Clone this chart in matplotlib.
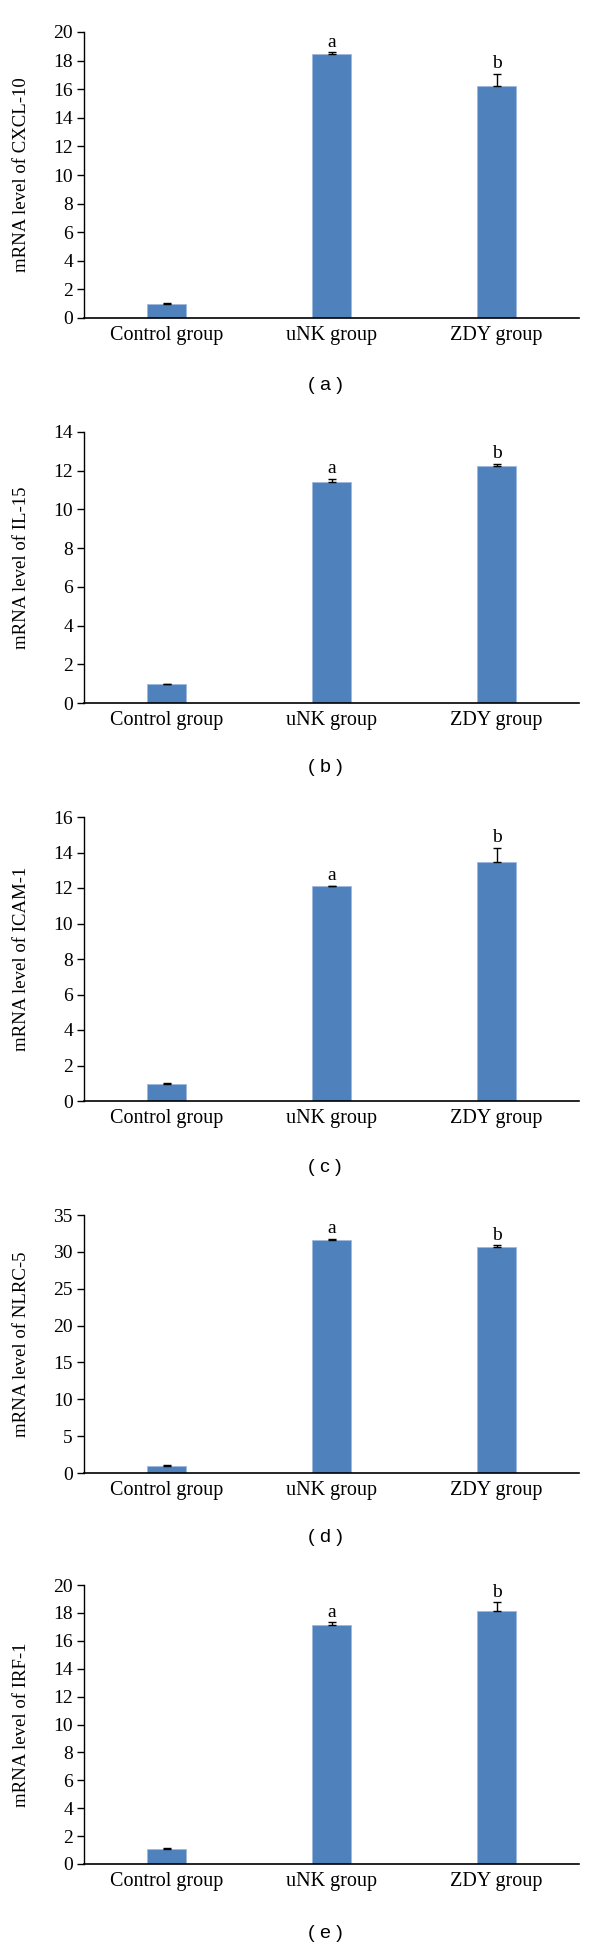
import matplotlib
matplotlib.use("Agg")
import matplotlib.pyplot as plt

groups = ["Control group", "uNK group", "ZDY group"]
genes = ["CXCL-10", "IL-15", "ICAM-1", "NLRC-5", "IRF-1"]
panel_tags = ["( a )", "( b )", "( c )", "( d )", "( e )"]

cxcl10 = [1.0, 18.45, 16.2]
cxcl10_err = [0.02, 0.12, 0.87]
il15 = [0.97, 11.44, 12.26]
il15_err = [0.03, 0.14, 0.10]
icam1 = [0.96, 12.1, 13.47]
icam1_err = [0.03, 0.04, 0.79]
nlrc5 = [1.0, 31.55, 30.7]
nlrc5_err = [0.09, 0.23, 0.17]
irf1 = [1.05, 17.13, 18.13]
irf1_err = [0.10, 0.19, 0.63]

means = [cxcl10, il15, icam1, nlrc5, irf1]
errs = [cxcl10_err, il15_err, icam1_err, nlrc5_err, irf1_err]
ymax = [20, 14, 16, 35, 20]
ystep = [2, 2, 2, 5, 2]
letters = ["", "a", "b"]

# pixel layout (top, bottom) of each axes box, figure is 600x1947
boxes = [(32, 318), (432, 703), (817, 1101), (1215, 1473), (1585, 1864)]
tag_y = [385, 768, 1168, 1537, 1934]
H = 1947.0

serif = "Liberation Serif"
fig = plt.figure(figsize=(6, 19.47), dpi=100)

for i in range(5):
    top, bot = boxes[i]
    ax = fig.add_axes([84 / 600, 1 - bot / H, 495 / 600, (bot - top) / H])
    x = range(len(groups))
    ax.bar(x, means[i], width=0.24, color="#4F81BD", edgecolor="#9DB9DE", linewidth=0.6, zorder=2)
    ax.errorbar(x, means[i], yerr=[[0, 0, 0], errs[i]], fmt="none", ecolor="black",
                elinewidth=1, capsize=3, capthick=1, zorder=3)
    for j in range(3):
        if letters[j]:
            ax.text(j, means[i][j] + errs[i][j] + ymax[i] * 0.006, letters[j], ha="center", va="bottom",
                    fontsize=14, family=serif)
    ax.set_xlim(-0.5, 2.5)
    ax.set_ylim(0, ymax[i])
    ax.set_yticks(range(0, ymax[i] + 1, ystep[i]))
    ax.set_xticks(list(x))
    ax.set_xticklabels(groups, fontsize=14.5, family=serif)
    ax.tick_params(axis="x", length=0, pad=6)
    ax.tick_params(axis="y", length=5, width=1, labelsize=14, direction="out", pad=3)
    for lab in ax.get_yticklabels():
        lab.set_family(serif)
    ax.spines["top"].set_visible(False)
    ax.spines["right"].set_visible(False)
    ax.spines["left"].set_linewidth(1)
    ax.spines["bottom"].set_linewidth(1.2)
    ax.set_ylabel("mRNA level of " + genes[i], fontsize=13.5, family=serif)
    ax.yaxis.set_label_coords(-0.109, 0.5)
    fig.text(325 / 600, 1 - tag_y[i] / H, panel_tags[i], ha="center", va="center",
             fontsize=14, family="Liberation Sans")

fig.savefig("out.png", dpi=100)
